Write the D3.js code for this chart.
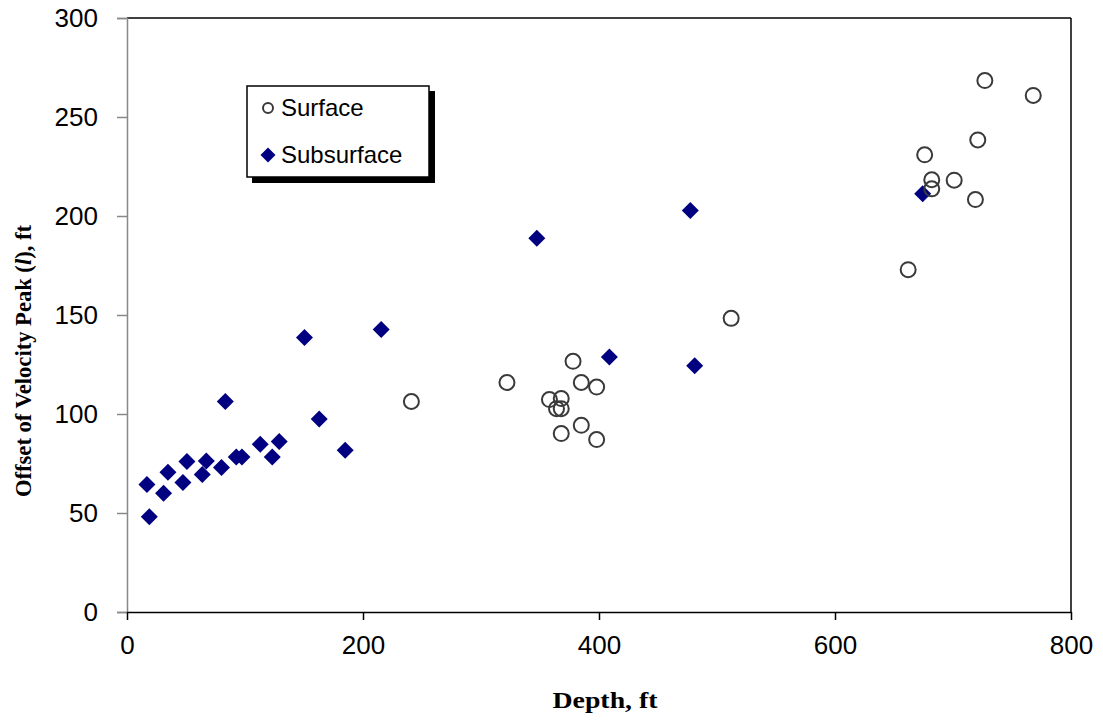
<!DOCTYPE html>
<html><head><meta charset="utf-8">
<script src="https://cdn.jsdelivr.net/npm/d3@7"></script>
<style>body{margin:0;background:#fff}</style>
</head><body>
<svg id="c" width="1103" height="721"></svg>
<script>
const surfaceX = [241, 322, 378, 385, 398, 358, 368, 364, 368, 385, 368, 398, 512, 727, 768, 721, 676, 682, 701, 682, 719, 662];
const surfaceY = [106.3, 115.9, 126.6, 115.9, 113.6, 107.3, 107.8, 102.7, 102.7, 94.3, 90.1, 87.1, 148.3, 268.4, 260.9, 238.4, 230.9, 218.3, 218.1, 213.7, 208.3, 172.9];
const subX = [16.9, 18.9, 31, 34.7, 47.4, 50.8, 63.8, 67.2, 80.1, 83.3, 92.6, 97.4, 112.9, 123.1, 129, 150.4, 162.9, 184.9, 215.4, 347.3, 408.8, 477.4, 481.1, 674.3];
const subY = [64.4, 48.1, 60, 70.6, 65.4, 76, 69.5, 76.3, 73, 106.3, 78.3, 78.3, 84.7, 78.3, 86.1, 138.6, 97.5, 81.7, 142.7, 188.8, 128.8, 202.8, 124.4, 211.2];
const xTicks = [0, 200, 400, 600, 800];
const yTicks = [0, 50, 100, 150, 200, 250, 300];
const legendLabels = ["Surface", "Subsurface"];

const svg = d3.select("#c");
const L = 127, R = 1071, T = 18, B = 612;
const x = d3.scaleLinear().domain([0, 800]).range([L, R]);
const y = d3.scaleLinear().domain([0, 300]).range([B, T]);

// frame
svg.append("line").attr("x1", L).attr("x2", R).attr("y1", T).attr("y2", T).attr("stroke", "#000").attr("stroke-width", 1.5);
svg.append("line").attr("x1", R).attr("x2", R).attr("y1", T).attr("y2", B).attr("stroke", "#000").attr("stroke-width", 1.5);

const yAxis = svg.append("g").attr("transform", `translate(${L},0)`)
  .call(d3.axisLeft(y).tickValues(yTicks).tickSize(10).tickPadding(19));
yAxis.select(".domain").attr("stroke", "#888").attr("stroke-width", 1.5);
yAxis.selectAll(".tick line").attr("stroke", "#888").attr("stroke-width", 1.5);
yAxis.selectAll("text").attr("font-family", "Liberation Sans, Arial, sans-serif").attr("font-size", 26).attr("fill", "#000");

const xAxis = svg.append("g").attr("transform", `translate(0,${B})`)
  .call(d3.axisBottom(x).tickValues(xTicks).tickSize(8).tickPadding(16).tickSizeOuter(0));
xAxis.select(".domain").attr("stroke", "#000").attr("stroke-width", 1.5);
xAxis.selectAll(".tick line").attr("stroke", "#000").attr("stroke-width", 1.5);
xAxis.selectAll("text").attr("font-family", "Liberation Sans, Arial, sans-serif").attr("font-size", 26).attr("fill", "#000");

// points
const diamond = s => `M0,${-s}L${s},0L0,${s}L${-s},0Z`;
svg.append("g").selectAll("path").data(subX.map((d, i) => [d, subY[i]])).join("path")
  .attr("transform", d => `translate(${x(d[0])},${y(d[1])})`)
  .attr("d", diamond(8.5)).attr("fill", "#000080");
svg.append("g").selectAll("circle").data(surfaceX.map((d, i) => [d, surfaceY[i]])).join("circle")
  .attr("cx", d => x(d[0])).attr("cy", d => y(d[1])).attr("r", 7.5)
  .attr("fill", "none").attr("stroke", "#3a3a3a").attr("stroke-width", 2);

// legend
const lg = svg.append("g");
lg.append("rect").attr("x", 252).attr("y", 91).attr("width", 183).attr("height", 92).attr("fill", "#000");
lg.append("rect").attr("x", 247).attr("y", 86).attr("width", 182).attr("height", 91).attr("fill", "#fff").attr("stroke", "#000").attr("stroke-width", 1.5);
lg.append("circle").attr("cx", 268).attr("cy", 108).attr("r", 5).attr("fill", "none").attr("stroke", "#3a3a3a").attr("stroke-width", 2);
lg.append("path").attr("transform", "translate(268,155)").attr("d", diamond(7.5)).attr("fill", "#000080");
lg.selectAll("text").data(legendLabels).join("text")
  .attr("x", 281).attr("y", (d, i) => 108 + i * 47).attr("dy", "0.35em")
  .attr("font-family", "Liberation Sans, Arial, sans-serif").attr("font-size", 24).text(d => d);

// axis titles
svg.append("text").attr("x", 605).attr("y", 708).attr("text-anchor", "middle")
  .attr("font-family", "Liberation Serif, Times New Roman, serif").attr("font-weight", "bold").attr("font-size", 24)
  .attr("textLength", 105).attr("lengthAdjust", "spacingAndGlyphs")
  .text("Depth, ft");
const yt = svg.append("text").attr("transform", "translate(31,361) rotate(-90)").attr("text-anchor", "middle")
  .attr("font-family", "Liberation Serif, Times New Roman, serif").attr("font-weight", "bold").attr("font-size", 23)
  .attr("textLength", 272).attr("lengthAdjust", "spacingAndGlyphs");
yt.append("tspan").text("Offset of Velocity Peak (");
yt.append("tspan").attr("font-style", "italic").text("l");
yt.append("tspan").text("), ft");
</script>
</body></html>
